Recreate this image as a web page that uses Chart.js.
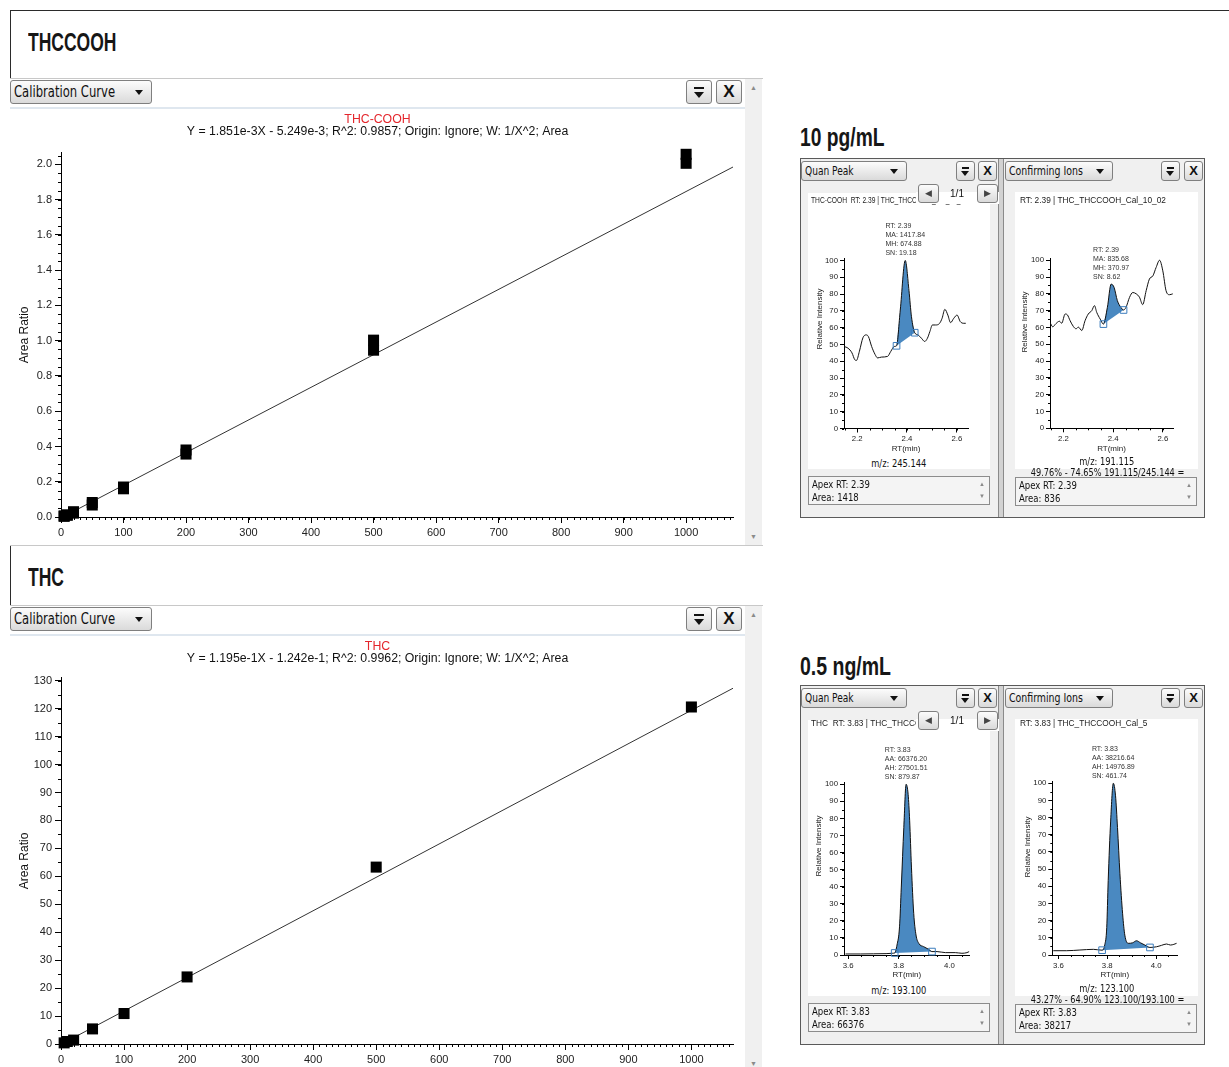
<!DOCTYPE html>
<html>
<head>
<meta charset="utf-8">
<title>THCCOOH / THC calibration</title>
<script src="https://cdn.jsdelivr.net/npm/chart.js@4.4.1/dist/chart.umd.min.js"></script>
<style>
  body { margin: 0; background: #fff; }
  #page { position: relative; width: 1229px; height: 1067px; overflow: hidden;
          font-family: "Liberation Sans", Arial, sans-serif; color: #111; }
  #page div { position: absolute; box-sizing: border-box; white-space: nowrap; }
  .narrow { font-family: "Liberation Sans Narrow", "DejaVu Sans Condensed", sans-serif; }
  .sq { display: inline-block; transform-origin: 0 50%; }
  .mid .sq { transform-origin: 50% 50%; }
  .heading { font-family: "Liberation Sans", Arial, sans-serif;
             font-weight: bold; font-size: 25px; line-height: 24px; color: #161616; transform-origin: 0 50%; }
  .frame { border-left: 1px solid #2b2b2b; border-top: 1px solid #2b2b2b; }
  .win { border-top: 1px solid #c8c8c8; border-bottom: 1px solid #c8c8c8; background: #fff; }
  .gray { background: #f0f0f0; }
  .white { background: #fff; }
  .raised { border: 1px solid #7f7f7f; border-radius: 3px; background: linear-gradient(#fcfcfc, #dadada); }
  .dd { padding-left: 3px; }
  .dd::after { content: ""; position: absolute; right: 8px; top: 50%; margin-top: -2px;
               border-left: 4px solid transparent; border-right: 4px solid transparent; border-top: 5px solid #111; }
  .filter::before { content: ""; position: absolute; left: 50%; top: 28%; width: 0.66em; height: 0.14em;
                    margin-left: -0.33em; background: #111; }
  .filter::after { content: ""; position: absolute; left: 50%; top: 50%; margin-left: -0.34em;
                   border-left: 0.34em solid transparent; border-right: 0.34em solid transparent; border-top: 0.42em solid #111; }
  .close { text-align: center; font-weight: bold; }
  .arrow { color: #8a8a8a; font-size: 7px; line-height: 10px; text-align: center; }
  .nav { text-align: center; color: #444; font-size: 9px; line-height: 17px; }
  .cv { z-index: 2; }
  .over { z-index: 5; }
  .info { border: 1px solid #8c8c8c; background: #f4f4f4; font-size: 11px; line-height: 13px; padding: 1px 0 0 3px; }
</style>
</head>
<body>
<div id="page"></div>
<script>
// calibration levels and measured area ratios
const calLevels = [5, 10, 20, 50, 100, 200, 500, 1000];
const thccoohRatioA = [0.004, 0.010, 0.022, 0.068, 0.160, 0.357, 0.946, 2.006];
const thccoohRatioB = [0.006, 0.012, 0.030, 0.082, 0.170, 0.380, 1.003, 2.057];
const thccoohFitX = [0, 1075];
const thccoohFitY = [-0.005, 1.985];
const thcRatio = [0.4, 0.9, 1.4, 5.4, 10.9, 24.0, 63.3, 120.6];
const thcFitX = [0, 1066];
const thcFitY = [-0.124, 127.3];

// chromatograms: retention time (min) and relative intensity (%)
const coohQuanRt = [2.147, 2.163, 2.179, 2.190, 2.197, 2.209, 2.223, 2.236, 2.245, 2.258, 2.272, 2.282, 2.298,
  2.322, 2.335, 2.349, 2.358, 2.373, 2.393, 2.408, 2.418, 2.431, 2.444, 2.458, 2.471, 2.482, 2.492, 2.502,
  2.515, 2.531, 2.541, 2.552, 2.564, 2.575, 2.588, 2.601, 2.614, 2.628, 2.636];
const coohQuanInt = [48.8, 47.8, 45.0, 41.0, 40.5, 46.0, 54.0, 55.7, 54.7, 48.8, 44.0, 42.0, 42.5,
  42.9, 45.9, 48.8, 49.2, 70.5, 100, 82.0, 66.5, 57.0, 55.7, 53.7, 51.8, 53.7, 57.7, 61.6,
  61.6, 62.6, 65.6, 70.9, 67.5, 63.0, 65.6, 67.5, 63.6, 62.6, 62.6];
const coohQuanBase = [2.358, 2.431];

const coohConfRt = [2.146, 2.157, 2.170, 2.184, 2.193, 2.207, 2.216, 2.227, 2.240, 2.251, 2.260, 2.274, 2.287,
  2.300, 2.314, 2.325, 2.334, 2.348, 2.361, 2.377, 2.392, 2.404, 2.417, 2.431, 2.442, 2.452, 2.466, 2.479,
  2.493, 2.506, 2.519, 2.533, 2.546, 2.560, 2.573, 2.587, 2.600, 2.613, 2.627, 2.640];
const coohConfInt = [63.0, 60.4, 62.3, 63.7, 62.5, 68.0, 67.5, 64.0, 60.6, 59.2, 60.2, 58.2, 64.0,
  68.0, 70.0, 73.0, 69.0, 65.0, 62.0, 72.0, 85.8, 83.8, 76.0, 72.0, 70.4, 72.0, 77.9, 80.8,
  80.0, 78.0, 73.6, 81.9, 88.8, 90.7, 95.7, 100, 93.7, 81.9, 79.5, 80.0];
const coohConfBase = [2.361, 2.442];

const thcQuanRt = [3.590, 3.650, 3.700, 3.750, 3.774, 3.784, 3.793, 3.803, 3.810, 3.820, 3.829, 3.837, 3.843,
  3.850, 3.859, 3.868, 3.879, 3.898, 3.918, 3.931, 3.951, 3.984, 4.023, 4.049, 4.069, 4.078];
const thcQuanInt = [0.6, 0.6, 0.7, 0.8, 1.0, 1.2, 5.8, 16.5, 39.8, 74.8, 100, 94.0, 78.6,
  51.5, 24.3, 11.7, 6.8, 4.9, 3.3, 2.0, 2.0, 1.4, 1.4, 1.0, 1.4, 2.0];
const thcQuanBase = [3.784, 3.931];

const thcConfRt = [3.579, 3.634, 3.688, 3.743, 3.779, 3.790, 3.798, 3.804, 3.814, 3.825, 3.834, 3.842, 3.852,
  3.863, 3.872, 3.886, 3.904, 3.920, 3.936, 3.954, 3.975, 4.002, 4.022, 4.043, 4.059, 4.073, 4.084];
const thcConfInt = [2.5, 2.5, 2.9, 3.3, 2.8, 6.0, 16.0, 43.4, 78.0, 100, 92.7, 74.3, 47.3,
  24.0, 11.6, 6.8, 7.1, 8.3, 7.1, 5.8, 4.4, 4.8, 5.6, 6.4, 5.8, 6.2, 6.8];
const thcConfBase = [3.779, 3.975];

const page = document.getElementById('page');

function box(cls, x, y, w, h, text, css) {
  const d = document.createElement('div');
  d.className = cls;
  Object.assign(d.style, {left: x + 'px', top: y + 'px', width: w + 'px', height: h + 'px'}, css || {});
  if (text) d.textContent = text;
  page.appendChild(d);
  return d;
}

// text squeezed sideways to get the narrow UI font look
function squeezed(d, lines, sx) {
  d.innerHTML = '';
  lines.forEach((t, i) => {
    if (i) d.appendChild(document.createElement('br'));
    const s = document.createElement('span');
    s.className = 'sq';
    s.style.transform = 'scaleX(' + sx + ')';
    s.textContent = t;
    d.appendChild(s);
  });
  return d;
}

function canvasAt(x, y, w, h) {
  const wrap = box('cv', x, y, w, h);
  const c = document.createElement('canvas');
  c.width = w;
  c.height = h;
  c.style.width = w + 'px';
  c.style.height = h + 'px';
  wrap.appendChild(c);
  return c;
}

// ---- page chrome ----
box('frame', 10, 10, 1300, 1200);
box('heading', 28, 30, 160, 24, 'THCCOOH', {transform: 'scaleX(0.70)'});
box('heading', 28, 565, 160, 24, 'THC', {transform: 'scaleX(0.70)'});
box('heading', 800, 125, 160, 24, '10 pg/mL', {transform: 'scaleX(0.77)'});
box('heading', 800, 654, 160, 24, '0.5 ng/mL', {transform: 'scaleX(0.78)'});

function calWindow(top) {
  box('win', 10, top, 753, 468);
  box('', 10, top + 29, 735, 2, '', {background: '#dfe7ef'});
  squeezed(box('raised dd narrow', 10, top + 2, 142, 24, '', {fontSize: '15px', lineHeight: '22px'}), ['Calibration Curve'], 0.86);
  box('raised filter', 686, top + 2, 26, 24, '', {fontSize: '15px'});
  box('raised close', 716, top + 2, 26, 24, 'X', {fontSize: '17px', lineHeight: '22px'});
  box('gray', 745, top + 1, 17, 466);
  box('arrow', 745, top + 5, 17, 10, '▲');
  box('arrow', 745, top + 454, 17, 10, '▼');
}
calWindow(78);
calWindow(605);

function infoBox(x, y, w, lines) {
  squeezed(box('info narrow over', x, y, w, 29), lines, 0.86);
  box('arrow over', x + w - 13, y + 3, 10, 10, '▲', {fontSize: '6px'});
  box('arrow over', x + w - 13, y + 15, 10, 10, '▼', {fontSize: '6px'});
}

function peakGroup(top, g) {
  box('gray', 800, top, 405, 360, '', {border: '1px solid #5a5a5a'});
  box('', 998, top + 1, 6, 358, '', {background: '#d2d2d2', borderLeft: '1px solid #8a8a8a', borderRight: '1px solid #8a8a8a'});
  squeezed(box('raised dd narrow', 801, top + 3, 106, 20, '', {fontSize: '12px', lineHeight: '18px'}), ['Quan Peak'], 0.84);
  box('raised filter', 956, top + 3, 19, 20, '', {fontSize: '12px'});
  box('raised close', 978, top + 3, 19, 20, 'X', {fontSize: '13px', lineHeight: '18px'});
  squeezed(box('raised dd narrow', 1005, top + 3, 108, 20, '', {fontSize: '12px', lineHeight: '18px'}), ['Confirming Ions'], 0.87);
  box('raised filter', 1161, top + 3, 19, 20, '', {fontSize: '12px'});
  box('raised close', 1184, top + 3, 19, 20, 'X', {fontSize: '13px', lineHeight: '18px'});
  box('white', 808, top + 35, 182, 276);
  box('white', 1015, top + 34, 183, 277);
  // page navigator over the quan trace header
  box('white over', 916, top + 34, 83, 12);
  box('raised nav over', 918, top + 26, 21, 19, '◀');
  box('over', 940, top + 29, 34, 13, '1/1', {fontSize: '10px', lineHeight: '13px', textAlign: 'center'});
  box('raised nav over', 977, top + 26, 21, 19, '▶');
  const txt = {fontSize: '11px', lineHeight: '13px', textAlign: 'center', zIndex: 3};
  squeezed(box('narrow mid', 808, top + 299, 182, 13, '', txt), [g.quanMz], 0.84);
  squeezed(box('narrow mid', 1015, top + 297, 183, 13, '', txt), [g.confMz], 0.84);
  squeezed(box('narrow mid', 1015, top + 308, 183, 13, '', txt), [g.ratio], 0.83);
  infoBox(808, top + 318, 182, g.quanInfo);
  infoBox(1015, top + 319, 182, g.confInfo);
}
peakGroup(158, {
  quanMz: 'm/z: 245.144', confMz: 'm/z: 191.115', ratio: '49.76% - 74.65% 191.115/245.144 =',
  quanInfo: ['Apex RT: 2.39', 'Area: 1418'], confInfo: ['Apex RT: 2.39', 'Area: 836']
});
peakGroup(685, {
  quanMz: 'm/z: 193.100', confMz: 'm/z: 123.100', ratio: '43.27% - 64.90% 123.100/193.100 =',
  quanInfo: ['Apex RT: 3.83', 'Area: 66376'], confInfo: ['Apex RT: 3.83', 'Area: 38217']
});

// ---- chart.js ----
Chart.defaults.font.family = '"Liberation Sans", Arial, sans-serif';
Chart.defaults.color = '#222';
Chart.defaults.animation = false;

// short unlabeled ticks between the labelled ones
const minorTicks = {
  id: 'minorTicks',
  afterDraw(chart, args, opts) {
    const ctx = chart.ctx;
    ctx.save();
    ctx.strokeStyle = '#000';
    ctx.lineWidth = 1;
    ctx.beginPath();
    ['x', 'y'].forEach(id => {
      const m = opts[id], s = chart.scales[id];
      if (!m || !s) return;
      const first = Math.ceil(s.min / m.step - 1e-6);
      for (let k = first; k * m.step <= s.max + 1e-9; k++) {
        const p = Math.round(s.getPixelForValue(k * m.step)) + 0.5;
        if (s.isHorizontal()) { ctx.moveTo(p, s.top); ctx.lineTo(p, s.top + m.len); }
        else { ctx.moveTo(s.right - m.len, p); ctx.lineTo(s.right, p); }
      }
    });
    ctx.stroke();
    ctx.restore();
  }
};

// RT / area / height / SN block above the integrated peak
const peakLabel = {
  id: 'peakLabel',
  afterDatasetsDraw(chart, args, opts) {
    if (!opts.lines) return;
    const ctx = chart.ctx;
    const px = chart.scales.x.getPixelForValue(opts.x);
    const py = chart.scales.y.getPixelForValue(opts.y);
    ctx.save();
    ctx.font = '7px "Liberation Sans", Arial, sans-serif';
    ctx.fillStyle = '#333';
    const w = Math.max(...opts.lines.map(t => ctx.measureText(t).width));
    const n = opts.lines.length;
    opts.lines.forEach((t, i) => ctx.fillText(t, px - w / 2, py - 5 - (n - 1 - i) * 9.2));
    ctx.restore();
  }
};

const sideLabel = {
  id: 'sideLabel',
  afterDraw(chart, args, opts) {
    if (!opts.text) return;
    const ctx = chart.ctx;
    ctx.save();
    ctx.translate(opts.x, opts.y);
    ctx.rotate(-Math.PI / 2);
    ctx.font = '8px "Liberation Sans", Arial, sans-serif';
    ctx.fillStyle = '#222';
    ctx.textAlign = 'center';
    ctx.textBaseline = 'middle';
    ctx.fillText(opts.text, 0, 0);
    ctx.restore();
  }
};
Chart.register(minorTicks, peakLabel, sideLabel);

const axisBase = {
  grid: {drawOnChartArea: false, color: '#000'},
  border: {color: '#000', width: 1}
};

function calCurve(c) {
  const points = c.reps.map(rep => ({
    type: 'scatter',
    data: calLevels.map((x, i) => ({x, y: rep[i]})),
    pointStyle: 'rect',
    pointRadius: 7.8,
    backgroundColor: '#000',
    borderWidth: 0,
    clip: false
  }));
  const fit = {
    type: 'line',
    data: c.fitX.map((x, i) => ({x, y: c.fitY[i]})),
    borderColor: '#333',
    borderWidth: 1,
    pointRadius: 0
  };
  new Chart(canvasAt(10, c.top, 735, 437), {
    type: 'scatter',
    data: {datasets: [...points, fit]},
    options: {
      responsive: false,
      events: [],
      layout: {padding: {left: 12, right: 12, top: 0, bottom: 0}},
      plugins: {
        legend: {display: false},
        tooltip: {enabled: false},
        title: {display: true, text: c.name, color: '#e4262c', font: {size: 12.3, weight: 'normal'}, padding: {top: 4.3, bottom: -3}},
        subtitle: {display: true, text: c.equation, color: '#111', font: {size: 12.3}, padding: {top: 0, bottom: c.gap}},
        minorTicks: {x: {step: 10, len: 3}, y: {step: c.yMinor, len: 3}}
      },
      scales: {
        x: {
          ...axisBase, type: 'linear', min: 0, max: c.xMax,
          afterFit: s => { s.height = 28; },
          grid: {...axisBase.grid, tickLength: 6},
          ticks: {stepSize: 100, includeBounds: false, autoSkip: false, maxRotation: 0, padding: 3, font: {size: 11},
                  callback: v => String(v)}
        },
        y: {
          ...axisBase, min: 0, max: c.yMax,
          afterFit: s => { s.width = 39; },
          grid: {...axisBase.grid, tickLength: 6},
          ticks: {stepSize: c.yStep, includeBounds: false, autoSkip: false, padding: 3, font: {size: 11},
                  callback: v => v.toFixed(c.yDec)},
          title: {display: true, text: 'Area Ratio', color: '#111', font: {size: 12}, padding: {top: -5, bottom: 0}}
        }
      }
    }
  });
}

calCurve({
  top: 108, name: 'THC-COOH',
  equation: 'Y = 1.851e-3X - 5.249e-3; R^2: 0.9857; Origin: Ignore; W: 1/X^2; Area',
  reps: [thccoohRatioA, thccoohRatioB], fitX: thccoohFitX, fitY: thccoohFitY,
  xMax: 1075, yMax: 2.066, yStep: 0.2, yMinor: 0.05, yDec: 1, gap: 13.9
});
calCurve({
  top: 635, name: 'THC',
  equation: 'Y = 1.195e-1X - 1.242e-1; R^2: 0.9962; Origin: Ignore; W: 1/X^2; Area',
  reps: [thcRatio], fitX: thcFitX, fitY: thcFitY,
  xMax: 1066, yMax: 131, yStep: 10, yMinor: 5, yDec: 0, gap: 12.1
});

function chromatogram(c) {
  const pts = c.rt.map((x, i) => ({x, y: c.inten[i]}));
  const s = c.rt.indexOf(c.base[0]);
  const e = c.rt.indexOf(c.base[1]);
  const peak = pts.slice(s, e + 1);
  const apex = peak.reduce((a, p) => (p.y > a.y ? p : a));
  const [x, y, w, h] = c.box;
  new Chart(canvasAt(x, y, w, h), {
    type: 'line',
    data: {datasets: [
      {data: [pts[s], pts[e]], showLine: false, pointStyle: 'rect', pointRadius: 4.7,
       pointBorderColor: '#3c7dbd', pointBackgroundColor: 'rgba(255,255,255,0)', pointBorderWidth: 1, clip: false},
      {data: pts, borderColor: '#111', borderWidth: 1, pointRadius: 0, cubicInterpolationMode: 'monotone', fill: false},
      {data: peak, borderWidth: 0, borderColor: 'rgba(0,0,0,0)', pointRadius: 0, backgroundColor: '#4a89c1',
       fill: 'shape', cubicInterpolationMode: 'monotone'}
    ]},
    options: {
      responsive: false,
      events: [],
      layout: {padding: {left: c.padL, right: c.padR, top: 0, bottom: 0}},
      plugins: {
        legend: {display: false},
        tooltip: {enabled: false},
        title: {display: true, text: c.header, align: 'start', color: '#222', font: {size: 8.3, weight: 'normal'},
                padding: {top: 4, bottom: c.gap - 0.6}},
        minorTicks: {x: {step: 0.05, len: 2}, y: {step: 5, len: 2}},
        peakLabel: {lines: c.label, x: apex.x, y: apex.y},
        sideLabel: {text: 'Relative Intensity', x: c.side[0], y: c.side[1]}
      },
      scales: {
        x: {
          ...axisBase, type: 'linear', min: c.xMin, max: c.xMax,
          afterFit: sc => { sc.height = c.xH; },
          grid: {...axisBase.grid, tickLength: 4},
          ticks: {stepSize: 0.2, includeBounds: false, autoSkip: false, maxRotation: 0, padding: 2,
                  font: {size: 7.8}, callback: v => v.toFixed(1)},
          title: {display: true, text: 'RT(min)', color: '#222', font: {size: 8}, padding: {top: 0, bottom: 3}}
        },
        y: {
          ...axisBase, min: 0, max: 101,
          afterFit: sc => { sc.width = c.yW; },
          grid: {...axisBase.grid, tickLength: 4},
          ticks: {stepSize: 10, includeBounds: false, autoSkip: false, padding: 2, font: {size: 7.8}}
        }
      }
    }
  });
}

chromatogram({
  box: [807, 192, 183, 265], padL: 4, padR: 22, yW: 33, xH: 28.5, gap: 53.4,
  xMin: 2.147, xMax: 2.645, side: [13, 127],
  rt: coohQuanRt, inten: coohQuanInt, base: coohQuanBase,
  header: 'THC-COOH  RT: 2.39 | THC_THCCOOH_Cal_10_02',
  label: ['RT: 2.39', 'MA: 1417.84', 'MH: 674.88', 'SN: 19.18']
});
chromatogram({
  box: [1015, 192, 182, 265], padL: 5, padR: 24, yW: 30, xH: 28.7, gap: 53.2,
  xMin: 2.146, xMax: 2.641, side: [10, 130],
  rt: coohConfRt, inten: coohConfInt, base: coohConfBase,
  header: 'RT: 2.39 | THC_THCCOOH_Cal_10_02',
  label: ['RT: 2.39', 'MA: 835.68', 'MH: 370.97', 'SN: 8.62']
});
chromatogram({
  box: [807, 715, 183, 268], padL: 4, padR: 20.5, yW: 33, xH: 28, gap: 54.2,
  xMin: 3.584, xMax: 4.079, side: [12, 131],
  rt: thcQuanRt, inten: thcQuanInt, base: thcQuanBase,
  header: 'THC  RT: 3.83 | THC_THCCOOH_Cal_5',
  label: ['RT: 3.83', 'AA: 66376.20', 'AH: 27501.51', 'SN: 879.87']
});
chromatogram({
  box: [1015, 715, 182, 268], padL: 5, padR: 19.7, yW: 32.3, xH: 28, gap: 53.2,
  xMin: 3.575, xMax: 4.087, side: [13, 132],
  rt: thcConfRt, inten: thcConfInt, base: thcConfBase,
  header: 'RT: 3.83 | THC_THCCOOH_Cal_5',
  label: ['RT: 3.83', 'AA: 38216.64', 'AH: 14976.89', 'SN: 461.74']
});
</script>
</body>
</html>
